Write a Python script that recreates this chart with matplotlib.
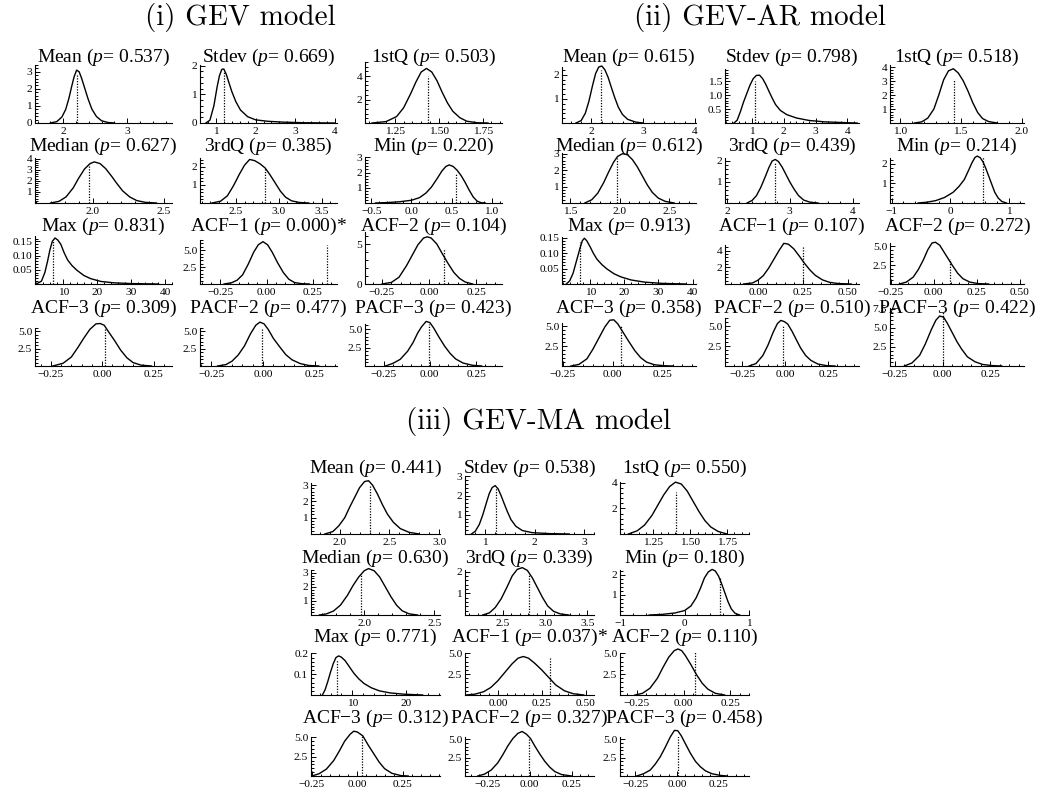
import matplotlib
matplotlib.use('Agg')
import matplotlib.pyplot as plt
from matplotlib.ticker import FixedLocator, FixedFormatter, AutoMinorLocator

plt.rcParams['font.family'] = 'Liberation Serif'
plt.rcParams['mathtext.fontset'] = 'custom'
plt.rcParams['mathtext.rm'] = 'Liberation Serif'
plt.rcParams['mathtext.it'] = 'Liberation Serif:italic'

M = '\u2212'
stat_names = ['Mean', 'Stdev', '1stQ', 'Median', '3rdQ', 'Min', 'Max',
              'ACF' + M + '1', 'ACF' + M + '2', 'ACF' + M + '3', 'PACF' + M + '2', 'PACF' + M + '3']
model_titles = ['(i) GEV model', '(ii) GEV-AR model', '(iii) GEV-MA model']
acf_ticks = [M + '0.25', '0.00', '0.25']

# ---------------- (i) GEV model ----------------
gev_p = ['0.537', '0.669', '0.503', '0.627', '0.385', '0.220', '0.831', '0.000', '0.104', '0.309', '0.477', '0.423']
gev_obs = [2.22, 1.20, 1.44, 1.97, 2.84, 0.55, 6.8, 0.325, 0.079, 0.016, -0.006, -0.004]
gev_obs_h = [2.85, 1.78, 4.0, 3.5, 1.95, 2.0, 0.15, 5.8, 4.4, 5.3, 5.3, 5.7]
gev_xlim = [(1.56, 3.7), (0.6, 4.05), (1.08, 1.86), (1.59, 2.56), (2.08, 3.68), (-0.58, 1.13),
            (1.6, 42), (-0.36, 0.38), (-0.34, 0.385), (-0.327, 0.34), (-0.305, 0.358), (-0.35, 0.39)]
gev_xticks = [['2', '3'], ['1', '2', '3', '4'], ['1.25', '1.50', '1.75'], ['2.0', '2.5'],
              ['2.5', '3.0', '3.5'], [M + '0.5', '0.0', '0.5', '1.0'], ['10', '20', '30', '40'],
              acf_ticks, acf_ticks, acf_ticks, acf_ticks, acf_ticks]
gev_yticks = [['0', '1', '2', '3'], ['0', '1', '2'], ['2', '4'], ['1', '2', '3', '4'], ['1', '2'],
              ['1', '2', '3'], ['0.05', '0.10', '0.15'], ['2.5', '5.0'], ['0', '5'], ['2.5', '5.0'],
              ['2.5', '5.0'], ['2.5', '5.0']]
gev_ytop = [3.4, 2.02, 5.2, 4.05, 2.5, 3.02, 0.169, 6.5, 6.5, 5.5, 5.5, 5.7]
gev_cx = [
    [1.80, 1.90, 1.98, 2.04, 2.09, 2.13, 2.17, 2.21, 2.25, 2.29, 2.34, 2.39, 2.45, 2.52, 2.60, 2.70, 2.80],
    [0.75, 0.85, 0.95, 1.03, 1.09, 1.15, 1.20, 1.26, 1.33, 1.40, 1.50, 1.62, 1.80, 2.00, 2.30, 2.70, 3.20, 4.00],
    [1.12, 1.20, 1.26, 1.30, 1.34, 1.37, 1.40, 1.43, 1.46, 1.49, 1.52, 1.55, 1.58, 1.62, 1.66, 1.72, 1.78],
    [1.70, 1.76, 1.81, 1.86, 1.90, 1.94, 1.98, 2.01, 2.05, 2.09, 2.13, 2.17, 2.21, 2.26, 2.31, 2.37, 2.45],
    [2.22, 2.32, 2.40, 2.47, 2.54, 2.60, 2.66, 2.72, 2.78, 2.84, 2.90, 2.96, 3.02, 3.08, 3.15, 3.24, 3.35],
    [-0.45, -0.30, -0.15, 0.00, 0.10, 0.18, 0.25, 0.32, 0.38, 0.43, 0.47, 0.52, 0.57, 0.62, 0.67, 0.72, 0.77, 0.82, 0.87, 0.92],
    [2.0, 3.5, 4.5, 5.3, 6.0, 6.7, 7.5, 8.3, 9.2, 10.2, 11.2, 12.5, 14.0, 16.0, 18.0, 21.0, 25.0, 30.0, 38.0],
    [-0.23, -0.19, -0.16, -0.13, -0.10, -0.07, -0.045, -0.02, 0.005, 0.03, 0.06, 0.09, 0.12, 0.15, 0.19, 0.23],
    [-0.25, -0.20, -0.16, -0.12, -0.09, -0.06, -0.03, -0.01, 0.01, 0.04, 0.07, 0.10, 0.13, 0.16, 0.19, 0.23],
    [-0.24, -0.19, -0.15, -0.12, -0.09, -0.06, -0.03, -0.01, 0.01, 0.03, 0.06, 0.09, 0.12, 0.15, 0.19, 0.24],
    [-0.22, -0.18, -0.15, -0.12, -0.09, -0.06, -0.035, -0.015, 0.005, 0.025, 0.05, 0.08, 0.11, 0.14, 0.18, 0.22, 0.27],
    [-0.24, -0.20, -0.16, -0.12, -0.09, -0.065, -0.045, -0.02, 0.00, 0.02, 0.05, 0.08, 0.11, 0.14, 0.18, 0.23, 0.28],
]
gev_cy = [
    [0.0, 0.08, 0.35, 0.80, 1.45, 2.10, 2.70, 3.10, 3.00, 2.60, 2.00, 1.40, 0.80, 0.38, 0.13, 0.03, 0.0],
    [0.0, 0.10, 0.60, 1.25, 1.65, 1.87, 1.88, 1.70, 1.40, 1.10, 0.75, 0.45, 0.22, 0.11, 0.06, 0.03, 0.01, 0.0],
    [0.0, 0.12, 0.55, 1.30, 2.50, 3.50, 4.35, 4.65, 4.35, 3.60, 2.60, 1.70, 1.00, 0.45, 0.15, 0.02, 0.0],
    [0.0, 0.15, 0.55, 1.35, 2.25, 3.05, 3.55, 3.70, 3.55, 3.10, 2.45, 1.75, 1.10, 0.55, 0.22, 0.06, 0.0],
    [0.0, 0.10, 0.40, 0.95, 1.60, 2.10, 2.42, 2.35, 2.18, 1.95, 1.55, 1.10, 0.65, 0.32, 0.12, 0.03, 0.0],
    [0.0, 0.03, 0.08, 0.18, 0.35, 0.65, 1.05, 1.60, 2.10, 2.40, 2.50, 2.40, 2.15, 1.80, 1.35, 0.85, 0.40, 0.12, 0.02, 0.0],
    [0.0, 0.01, 0.04, 0.08, 0.12, 0.15, 0.162, 0.155, 0.14, 0.11, 0.085, 0.065, 0.048, 0.03, 0.019, 0.009, 0.004, 0.0015, 0.0],
    [0.0, 0.18, 0.55, 1.35, 2.90, 4.70, 5.80, 6.25, 5.80, 4.70, 3.10, 1.70, 0.70, 0.22, 0.04, 0.0],
    [0.0, 0.20, 0.85, 2.30, 3.60, 4.90, 5.75, 5.90, 5.75, 5.00, 3.75, 2.55, 1.45, 0.70, 0.25, 0.0],
    [0.0, 0.40, 1.30, 2.60, 4.00, 5.30, 6.10, 6.15, 5.90, 5.00, 3.70, 2.30, 1.20, 0.50, 0.12, 0.0],
    [0.0, 0.20, 0.70, 1.60, 2.90, 4.70, 5.90, 6.35, 6.10, 5.30, 4.00, 2.80, 1.65, 0.90, 0.35, 0.08, 0.0],
    [0.0, 0.35, 0.90, 2.00, 3.20, 4.50, 5.30, 6.05, 5.90, 5.20, 3.90, 2.70, 1.70, 0.95, 0.40, 0.10, 0.0],
]

# ---------------- (ii) GEV-AR model ----------------
ar_p = ['0.615', '0.798', '0.518', '0.612', '0.439', '0.214', '0.913', '0.107', '0.272', '0.358', '0.510', '0.422']
ar_obs = [2.18, 1.10, 1.445, 1.97, 2.76, 0.56, 6.9, 0.25, 0.097, 0.041, -0.01, 0.0]
ar_obs_h = [2.18, 1.5, 3.17, 2.76, 1.95, 2.34, 0.136, 4.6, 3.3, 5.0, 5.0, 7.2]
ar_xlim = [(1.43, 4.02), (0.17, 4.36), (0.92, 2.02), (1.42, 2.77), (1.97, 4.1), (-1.03, 1.26),
           (1.75, 41), (-0.183, 0.564), (-0.255, 0.526), (-0.255, 0.418), (-0.35, 0.43), (-0.275, 0.426)]
ar_xticks = [['2', '3', '4'], ['1', '2', '3', '4'], ['1.0', '1.5', '2.0'], ['1.5', '2.0', '2.5'],
             ['2', '3', '4'], [M + '1', '0', '1'], ['10', '20', '30', '40'], ['0.00', '0.25', '0.50'],
             [M + '0.25', '0.00', '0.25', '0.50'], acf_ticks, acf_ticks, acf_ticks]
ar_yticks = [['1', '2'], ['0.5', '1.0', '1.5'], ['1', '2', '3', '4'], ['1', '2', '3'], ['1', '2'],
             ['1', '2'], ['0.05', '0.10', '0.15'], ['2', '4'], ['2.5', '5.0'], ['2.5', '5.0'],
             ['2.5', '5.0'], ['2.5', '5.0', '7.5']]
ar_ytop = [2.32, 1.93, 4.17, 3.06, 2.14, 2.3, 0.152, 4.7, 5.4, 5.4, 6.0, 7.6]
ar_cx = [
    [1.70, 1.80, 1.88, 1.95, 2.02, 2.08, 2.14, 2.20, 2.26, 2.32, 2.38, 2.45, 2.52, 2.60, 2.70, 2.85, 3.00],
    [0.45, 0.55, 0.65, 0.75, 0.85, 0.95, 1.05, 1.15, 1.25, 1.35, 1.45, 1.55, 1.65, 1.75, 1.90, 2.10, 2.40, 2.80, 3.30, 4.00, 4.30],
    [1.12, 1.18, 1.23, 1.28, 1.32, 1.36, 1.40, 1.44, 1.48, 1.52, 1.56, 1.60, 1.64, 1.68, 1.73, 1.80],
    [1.65, 1.72, 1.78, 1.84, 1.89, 1.94, 1.98, 2.03, 2.08, 2.13, 2.18, 2.23, 2.28, 2.33, 2.39, 2.46, 2.55],
    [2.32, 2.40, 2.47, 2.54, 2.61, 2.67, 2.72, 2.77, 2.82, 2.88, 2.94, 3.00, 3.07, 3.14, 3.22, 3.32, 3.45],
    [-0.55, -0.40, -0.25, -0.10, 0.05, 0.15, 0.24, 0.31, 0.37, 0.42, 0.46, 0.51, 0.56, 0.61, 0.66, 0.71, 0.76, 0.82, 0.88, 0.96],
    [3.0, 4.0, 5.0, 6.0, 7.0, 7.7, 8.3, 9.0, 10.0, 11.0, 12.0, 13.5, 15.0, 17.0, 19.0, 22.0, 26.0, 31.0, 38.0],
    [-0.08, -0.03, 0.00, 0.03, 0.06, 0.09, 0.12, 0.145, 0.17, 0.20, 0.23, 0.26, 0.29, 0.32, 0.36, 0.40, 0.45, 0.52],
    [-0.20, -0.16, -0.12, -0.09, -0.06, -0.035, -0.01, 0.01, 0.035, 0.06, 0.085, 0.11, 0.14, 0.17, 0.21, 0.26, 0.32],
    [-0.21, -0.17, -0.13, -0.10, -0.07, -0.04, -0.015, 0.005, 0.025, 0.05, 0.08, 0.11, 0.14, 0.17, 0.21, 0.26, 0.30],
    [-0.21, -0.17, -0.13, -0.10, -0.07, -0.045, -0.025, -0.005, 0.015, 0.04, 0.065, 0.09, 0.12, 0.15, 0.19, 0.24, 0.29],
    [-0.20, -0.16, -0.12, -0.09, -0.06, -0.035, -0.015, 0.005, 0.025, 0.05, 0.075, 0.10, 0.13, 0.17, 0.21, 0.26, 0.31],
]
ar_cy = [
    [0.0, 0.10, 0.40, 0.90, 1.55, 2.05, 2.32, 2.36, 2.20, 1.90, 1.50, 1.05, 0.65, 0.35, 0.15, 0.04, 0.0],
    [0.0, 0.10, 0.40, 0.75, 1.05, 1.35, 1.58, 1.70, 1.71, 1.58, 1.37, 1.12, 0.88, 0.66, 0.45, 0.30, 0.18, 0.09, 0.04, 0.01, 0.0],
    [0.0, 0.08, 0.35, 1.00, 2.00, 3.10, 3.75, 3.90, 3.60, 3.05, 2.30, 1.45, 0.75, 0.32, 0.10, 0.0],
    [0.0, 0.20, 0.60, 1.25, 1.90, 2.50, 2.85, 3.02, 2.95, 2.65, 2.20, 1.65, 1.10, 0.65, 0.30, 0.10, 0.0],
    [0.0, 0.12, 0.35, 0.75, 1.25, 1.70, 2.00, 2.07, 1.97, 1.70, 1.35, 1.00, 0.65, 0.35, 0.14, 0.04, 0.0],
    [0.0, 0.04, 0.12, 0.28, 0.55, 0.85, 1.20, 1.65, 2.05, 2.32, 2.40, 2.32, 2.10, 1.75, 1.35, 0.95, 0.55, 0.25, 0.08, 0.0],
    [0.0, 0.01, 0.035, 0.075, 0.115, 0.140, 0.148, 0.140, 0.120, 0.098, 0.080, 0.062, 0.048, 0.033, 0.023, 0.013, 0.006, 0.002, 0.0],
    [0.0, 0.12, 0.45, 1.00, 1.90, 3.00, 4.10, 4.90, 4.80, 4.25, 3.40, 2.50, 1.70, 1.05, 0.50, 0.20, 0.05, 0.0],
    [0.0, 0.25, 0.90, 1.90, 3.20, 4.50, 5.40, 5.50, 5.10, 4.20, 3.30, 2.40, 1.40, 0.70, 0.25, 0.05, 0.0],
    [0.0, 0.20, 0.90, 2.10, 3.50, 4.90, 5.75, 5.80, 5.30, 4.30, 3.10, 1.95, 1.05, 0.48, 0.15, 0.03, 0.0],
    [0.0, 0.30, 1.30, 2.60, 4.20, 5.30, 5.70, 5.55, 5.25, 4.35, 3.30, 2.25, 1.30, 0.70, 0.25, 0.05, 0.0],
    [0.0, 0.40, 1.40, 2.90, 4.70, 6.00, 6.55, 6.40, 5.60, 4.40, 3.20, 2.20, 1.20, 0.55, 0.20, 0.05, 0.0],
]

# ---------------- (iii) GEV-MA model ----------------
ma_p = ['0.441', '0.538', '0.550', '0.630', '0.339', '0.180', '0.771', '0.037', '0.110', '0.312', '0.327', '0.458']
ma_obs = [2.30, 1.22, 1.405, 1.98, 2.81, 0.55, 7.16, 0.298, 0.0625, 0.024, -0.006, 0.006]
ma_obs_h = [2.95, 2.4, 3.3, 2.95, 1.9, 1.83, 0.17, 4.6, 5.2, 5.2, 5.2, 6.0]
ma_xlim = [(1.71, 3.01), (0.59, 3.2), (1.023, 1.9), (1.62, 2.54), (2.05, 3.58), (-1.005, 1.005),
           (2.4, 26.2), (-0.187, 0.548), (-0.34, 0.35), (-0.255, 0.455), (-0.386, 0.384), (-0.34, 0.43)]
ma_xticks = [['2.0', '2.5', '3.0'], ['1', '2', '3'], ['1.25', '1.50', '1.75'], ['2.0', '2.5'],
             ['2.5', '3.0', '3.5'], [M + '1', '0', '1'], ['10', '20'], ['0.00', '0.25', '0.50'],
             acf_ticks, acf_ticks, acf_ticks, acf_ticks]
ma_yticks = [['1', '2', '3'], ['1', '2', '3'], ['2', '4'], ['1', '2', '3'], ['1', '2'], ['1', '2'],
             ['0.1', '0.2'], ['2.5', '5.0'], ['2.5', '5.0'], ['2.5', '5.0'], ['2.5', '5.0'], ['2.5', '5.0']]
ma_ytop = [3.13, 3.02, 4.06, 3.2, 2.07, 2.25, 0.202, 5.02, 5.02, 5.05, 5.3, 5.3]
ma_cx = [
    [1.85, 1.93, 1.99, 2.05, 2.10, 2.15, 2.20, 2.25, 2.29, 2.33, 2.38, 2.43, 2.48, 2.54, 2.61, 2.70, 2.80],
    [0.72, 0.80, 0.88, 0.95, 1.02, 1.08, 1.14, 1.20, 1.26, 1.32, 1.38, 1.45, 1.52, 1.62, 1.75, 1.95, 2.30, 2.70],
    [1.08, 1.14, 1.19, 1.24, 1.28, 1.32, 1.36, 1.40, 1.44, 1.48, 1.52, 1.56, 1.60, 1.64, 1.69, 1.75],
    [1.68, 1.73, 1.78, 1.83, 1.88, 1.92, 1.96, 2.00, 2.03, 2.07, 2.11, 2.15, 2.19, 2.23, 2.27, 2.32, 2.38],
    [2.26, 2.34, 2.41, 2.48, 2.55, 2.61, 2.67, 2.73, 2.79, 2.85, 2.91, 2.97, 3.03, 3.10, 3.18, 3.28],
    [-0.55, -0.35, -0.15, 0.00, 0.10, 0.18, 0.25, 0.31, 0.37, 0.43, 0.48, 0.53, 0.58, 0.63, 0.68, 0.73, 0.79, 0.86],
    [4.5, 5.0, 5.5, 6.0, 6.5, 7.0, 7.5, 8.0, 8.7, 9.5, 10.3, 11.2, 12.2, 13.5, 15.0, 17.0, 19.5, 23.0],
    [-0.18, -0.13, -0.08, -0.04, 0.00, 0.04, 0.08, 0.115, 0.145, 0.175, 0.21, 0.25, 0.29, 0.33, 0.38, 0.43, 0.49],
    [-0.26, -0.22, -0.18, -0.14, -0.11, -0.08, -0.05, -0.03, -0.01, 0.01, 0.04, 0.07, 0.10, 0.13, 0.17, 0.22],
    [-0.25, -0.21, -0.17, -0.13, -0.10, -0.07, -0.04, -0.02, 0.00, 0.03, 0.06, 0.09, 0.12, 0.15, 0.19, 0.24, 0.28],
    [-0.31, -0.27, -0.23, -0.19, -0.16, -0.13, -0.10, -0.07, -0.045, -0.02, 0.005, 0.03, 0.06, 0.09, 0.12, 0.15, 0.19, 0.25],
    [-0.24, -0.20, -0.16, -0.13, -0.10, -0.07, -0.04, -0.015, 0.005, 0.025, 0.05, 0.08, 0.11, 0.14, 0.17, 0.21, 0.26, 0.30],
]
ma_cy = [
    [0.0, 0.15, 0.50, 1.00, 1.65, 2.25, 2.85, 3.22, 3.27, 3.00, 2.45, 1.80, 1.22, 0.72, 0.33, 0.10, 0.0],
    [0.0, 0.15, 0.50, 1.00, 1.60, 2.10, 2.42, 2.52, 2.35, 2.00, 1.60, 1.15, 0.75, 0.40, 0.18, 0.07, 0.02, 0.0],
    [0.0, 0.25, 0.70, 1.45, 2.25, 3.05, 3.70, 4.05, 3.90, 3.35, 2.55, 1.75, 1.05, 0.55, 0.20, 0.0],
    [0.0, 0.08, 0.28, 0.70, 1.40, 2.10, 2.70, 3.15, 3.30, 3.15, 2.70, 2.00, 1.30, 0.70, 0.30, 0.08, 0.0],
    [0.0, 0.10, 0.35, 0.75, 1.30, 1.80, 2.10, 2.18, 2.05, 1.70, 1.25, 0.80, 0.42, 0.17, 0.05, 0.0],
    [0.0, 0.03, 0.10, 0.22, 0.45, 0.85, 1.35, 1.85, 2.15, 2.28, 2.20, 1.95, 1.55, 1.10, 0.65, 0.30, 0.08, 0.0],
    [0.0, 0.025, 0.065, 0.110, 0.150, 0.180, 0.188, 0.182, 0.165, 0.135, 0.105, 0.078, 0.055, 0.035, 0.020, 0.010, 0.004, 0.0],
    [0.0, 0.10, 0.40, 0.90, 1.70, 2.70, 3.70, 4.40, 4.60, 4.40, 3.80, 3.00, 2.10, 1.20, 0.50, 0.15, 0.0],
    [0.0, 0.20, 0.80, 2.00, 3.30, 4.50, 5.30, 5.50, 5.30, 4.70, 3.60, 2.40, 1.40, 0.70, 0.20, 0.0],
    [0.0, 0.30, 0.90, 2.00, 3.20, 4.50, 5.40, 5.80, 5.70, 5.20, 4.00, 2.90, 1.80, 0.95, 0.35, 0.05, 0.0],
    [0.0, 0.25, 0.80, 1.80, 2.90, 4.10, 5.10, 5.80, 6.05, 5.70, 5.10, 4.10, 3.00, 2.00, 1.20, 0.60, 0.20, 0.0],
    [0.0, 0.30, 0.80, 1.60, 2.60, 3.90, 5.30, 6.20, 6.15, 5.50, 4.40, 3.10, 2.00, 1.25, 0.70, 0.30, 0.08, 0.0],
]

# layout in pixels (figure is 1050 x 796)
FW, FH = 1050, 796
gev_left, gev_w = [35, 200, 365], 137
ar_left, ar_w = [562, 725, 890], 134
ma_left, ma_w = [311, 465, 620], 129
top_bottoms = [123, 203, 284, 366]
ma_bottoms = [534, 615, 695, 776]
title_off = [66, 57, 58, 58]   # title centre above each row's x axis
gev_heights = [58, 58, 61, 45, 45, 46, 48, 44, 52, 38, 38, 42]
ar_heights = [56, 54, 58, 50, 45, 45, 47, 39, 41, 43, 48, 58]
ma_heights = [51, 58, 52, 45, 45, 45, 42, 42, 42, 39, 39, 39]

fig = plt.figure(figsize=(FW / 100, FH / 100), dpi=100)


def tick_vals(labels):
    return [float(s.replace(M, '-')) for s in labels]


def draw_group(lefts, width, bottoms, heights, pvals, obs, obs_h, xlims, xticks, yticks, ytops, cxs, cys):
    for k in range(12):
        r, c = divmod(k, 3)
        l, b, h = lefts[c], bottoms[r], heights[k]
        ax = fig.add_axes([l / FW, 1 - b / FH, width / FW, h / FH])
        ax.plot(cxs[k], cys[k], color='black', lw=1.0, clip_on=False, solid_joinstyle='round')
        ax.vlines(obs[k], 0, obs_h[k], colors='black', linestyles=(0, (1, 1.2)), lw=0.9)
        ax.set_xlim(*xlims[k])
        ax.set_ylim(0, ytops[k])
        ax.xaxis.set_major_locator(FixedLocator(tick_vals(xticks[k])))
        ax.xaxis.set_major_formatter(FixedFormatter(xticks[k]))
        ax.yaxis.set_major_locator(FixedLocator(tick_vals(yticks[k])))
        ax.yaxis.set_major_formatter(FixedFormatter(yticks[k]))
        ax.xaxis.set_minor_locator(AutoMinorLocator(5))
        ax.yaxis.set_minor_locator(AutoMinorLocator(5))
        ax.tick_params(which='both', direction='in', width=0.7, labelsize=8.2)
        ax.tick_params(axis='x', pad=3)
        ax.tick_params(axis='y', pad=2)
        ax.tick_params(which='major', length=3.5)
        ax.tick_params(which='minor', length=1.8)
        for s in ['top', 'right']:
            ax.spines[s].set_visible(False)
        for s in ['left', 'bottom']:
            ax.spines[s].set_linewidth(0.8)
        title = stat_names[k] + ' ($p$= ' + pvals[k] + ')'
        if float(pvals[k]) < 0.05:
            title += '*'
        fig.text((l + width / 2) / FW, 1 - (b - title_off[r]) / FH, title,
                 ha='center', va='center', fontsize=14)


draw_group(gev_left, gev_w, top_bottoms, gev_heights, gev_p, gev_obs, gev_obs_h,
           gev_xlim, gev_xticks, gev_yticks, gev_ytop, gev_cx, gev_cy)
draw_group(ar_left, ar_w, top_bottoms, ar_heights, ar_p, ar_obs, ar_obs_h,
           ar_xlim, ar_xticks, ar_yticks, ar_ytop, ar_cx, ar_cy)
draw_group(ma_left, ma_w, ma_bottoms, ma_heights, ma_p, ma_obs, ma_obs_h,
           ma_xlim, ma_xticks, ma_yticks, ma_ytop, ma_cx, ma_cy)

header_pos = [(240, 18), (760, 18), (539, 422)]
for t, (hx, hy) in zip(model_titles, header_pos):
    fig.text(hx / FW, 1 - hy / FH, t, ha='center', va='center', fontsize=21, family='cmr10')

fig.savefig('out.png', dpi=100)
